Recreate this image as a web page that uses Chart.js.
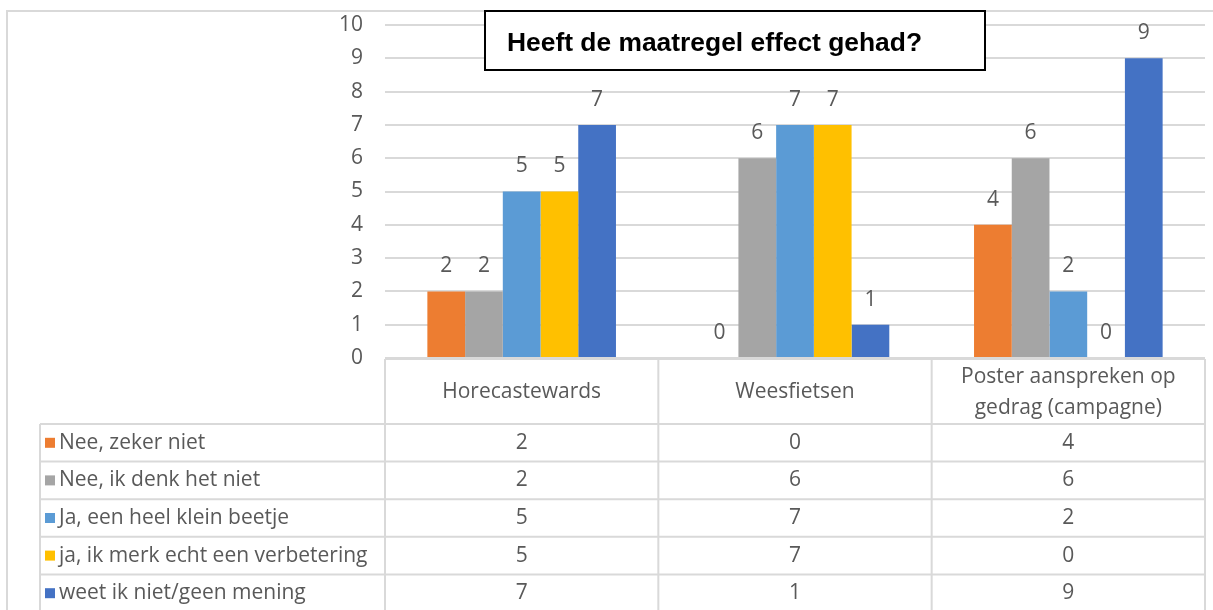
<!DOCTYPE html>
<html>
<head>
<meta charset="utf-8">
<script src="https://cdn.jsdelivr.net/npm/chart.js@4.4.1/dist/chart.umd.min.js"></script>
<style>
  body { margin: 0; background: #fff; }
  canvas { display: block; }
</style>
</head>
<body>
<canvas id="grafiek" width="1213" height="610"></canvas>
<script>
// categorieën (kolommen van de tabel)
const categorieen = ['Horecastewards', 'Weesfietsen', ['Poster aanspreken op', 'gedrag (campagne)']];

// antwoorden (reeksen)
const antwoorden = [
    'Nee, zeker niet',
    'Nee, ik denk het niet',
    'Ja, een heel klein beetje',
    'ja, ik merk echt een verbetering',
    'weet ik niet/geen mening'
];

const neeZekerNiet = [2, 0, 4];
const neeDenkHetNiet = [2, 6, 6];
const jaKleinBeetje = [5, 7, 2];
const jaVerbetering = [5, 7, 0];
const weetIkNiet = [7, 1, 9];

const yTicks = [0, 1, 2, 3, 4, 5, 6, 7, 8, 9, 10];

const kleuren = ['#ED7D31', '#A5A5A5', '#5B9BD5', '#FFC000', '#4472C4'];
const titel = 'Heeft de maatregel effect gehad?';

const lettertype = "'Open Sans', sans-serif";
const tekstKleur = '#595959';
const lijnKleur = '#d9d9d9';
const grootte = 21;

const reeksen = [neeZekerNiet, neeDenkHetNiet, jaKleinBeetje, jaVerbetering, weetIkNiet];

// omlijning van het hele figuur
const kaderPlugin = {
    id: 'kader',
    beforeDraw(chart) {
        const ctx = chart.ctx;
        ctx.save();
        ctx.strokeStyle = lijnKleur;
        ctx.lineWidth = 2;
        ctx.beginPath();
        ctx.moveTo(7, 612);
        ctx.lineTo(7, 11);
        ctx.lineTo(1213, 11);
        ctx.stroke();
        ctx.restore();
    }
};

// getallen boven de staven
const labelsPlugin = {
    id: 'labels',
    afterDatasetsDraw(chart) {
        const ctx = chart.ctx;
        ctx.save();
        ctx.font = grootte + 'px ' + lettertype;
        ctx.fillStyle = tekstKleur;
        ctx.textAlign = 'center';
        ctx.textBaseline = 'middle';
        chart.data.datasets.forEach((ds, i) => {
            chart.getDatasetMeta(i).data.forEach((bar, j) => {
                ctx.fillText(ds.data[j], bar.x, bar.y - 25);
            });
        });
        ctx.restore();
    }
};

// datatabel onder de grafiek + titelvak
const tabelPlugin = {
    id: 'tabel',
    afterDraw(chart) {
        const ctx = chart.ctx;
        const area = chart.chartArea;
        const x = chart.scales.x;
        const n = categorieen.length;

        const grenzen = [area.left];
        for (let i = 0; i < n - 1; i++) {
            grenzen.push((x.getPixelForValue(i) + x.getPixelForValue(i + 1)) / 2);
        }
        grenzen.push(area.right);

        const top = area.bottom + 1;
        const kopOnder = 424;
        const rijHoogte = 37.6;
        const legendaLinks = 40;

        ctx.save();
        ctx.strokeStyle = lijnKleur;
        ctx.lineWidth = 2;
        ctx.beginPath();
        // kopregel
        ctx.moveTo(area.left, top);
        ctx.lineTo(area.right, top);
        grenzen.forEach(g => {
            ctx.moveTo(g, top);
            ctx.lineTo(g, 612);
        });
        // rijen
        for (let r = 0; r <= antwoorden.length; r++) {
            const y = kopOnder + r * rijHoogte;
            ctx.moveTo(legendaLinks, y);
            ctx.lineTo(area.right, y);
        }
        ctx.moveTo(legendaLinks, kopOnder);
        ctx.lineTo(legendaLinks, 612);
        ctx.stroke();

        ctx.font = grootte + 'px ' + lettertype;
        ctx.fillStyle = tekstKleur;
        ctx.textBaseline = 'middle';
        ctx.textAlign = 'center';

        // kopteksten
        categorieen.forEach((cat, i) => {
            const cx = x.getPixelForValue(i);
            const regels = Array.isArray(cat) ? cat : [cat];
            const midden = (top + kopOnder) / 2 + 1;
            regels.forEach((regel, k) => {
                ctx.fillText(regel, cx, midden + (k - (regels.length - 1) / 2) * 31);
            });
        });

        // rijen met waarden
        antwoorden.forEach((naam, r) => {
            const cy = kopOnder + r * rijHoogte + rijHoogte / 2;
            ctx.fillStyle = kleuren[r];
            ctx.fillRect(45, cy - 5, 10, 10);
            ctx.fillStyle = tekstKleur;
            ctx.textAlign = 'left';
            ctx.fillText(naam, 59, cy);
            ctx.textAlign = 'center';
            reeksen[r].forEach((v, i) => {
                ctx.fillText(v, x.getPixelForValue(i), cy);
            });
        });

        // titelvak
        ctx.fillStyle = '#ffffff';
        ctx.fillRect(485, 11, 500, 59);
        ctx.strokeStyle = '#000000';
        ctx.lineWidth = 2;
        ctx.strokeRect(485, 11, 500, 59);
        ctx.fillStyle = '#000000';
        ctx.font = "bold 26.4px 'Liberation Sans', Arial, sans-serif";
        ctx.textAlign = 'left';
        ctx.fillText(titel, 507, 44);
        ctx.restore();
    }
};

function maakGrafiek() {
    const ctx = document.getElementById('grafiek').getContext('2d');

    const datasets = antwoorden.map((naam, i) => ({
        label: naam,
        data: reeksen[i],
        backgroundColor: kleuren[i],
        borderWidth: 0,
        barPercentage: 1,
        categoryPercentage: 0.69
    }));

    new Chart(ctx, {
        type: 'bar',
        data: {
            labels: categorieen,
            datasets: datasets
        },
        options: {
            responsive: false,
            animation: false,
            layout: {
                padding: { left: 330, right: 8, top: 25, bottom: 252 }
            },
            scales: {
                x: {
                    display: false
                },
                y: {
                    min: 0,
                    max: 10,
                    afterFit: (s) => {
                        s.width = 55;
                        s.paddingTop = 0;
                        s.paddingBottom = 0;
                    },
                    afterBuildTicks: (s) => { s.ticks = yTicks.map(v => ({ value: v })); },
                    border: { display: false },
                    grid: {
                        color: lijnKleur,
                        lineWidth: 2,
                        drawTicks: false
                    },
                    ticks: {
                        padding: 22,
                        color: tekstKleur,
                        font: { family: lettertype, size: grootte }
                    }
                }
            },
            plugins: {
                legend: { display: false },
                tooltip: { enabled: false }
            }
        },
        plugins: [kaderPlugin, labelsPlugin, tabelPlugin]
    });
}

document.addEventListener('DOMContentLoaded', () => {
    maakGrafiek();
});
</script>
</body>
</html>
